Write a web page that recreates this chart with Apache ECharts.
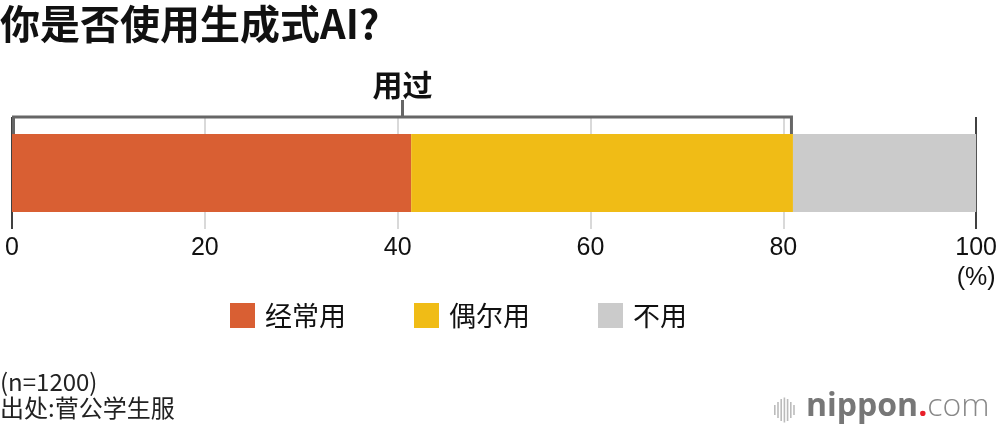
<!DOCTYPE html>
<html>
<head>
<meta charset="utf-8">
<script src="https://cdn.jsdelivr.net/npm/echarts@6/dist/echarts.min.js"></script>
<style>
html,body{margin:0;padding:0;background:#fff;}
#c{width:1000px;height:432px;}
</style>
</head>
<body>
<div id="c"></div>
<script>
// ---- data ----
const categories = [''];
const seriesNames = ['经常用', '偶尔用', '不用'];
const valuesOften = [41.4];
const valuesSometimes = [39.6];
const valuesNever = [19.0];
const usedLabel = '用过';
const tickLabels = ['0', '20', '40', '60', '80', '100'];
const title = '你是否使用生成式AI?';
const sampleNote = '(n=1200)';
const sourceNote = '出处:菅公学生服';

const colors = ['#D95F33', '#F0BC16', '#CBCBCB'];
const usedTotal = valuesOften[0] + valuesSometimes[0];
const CJK = '"Noto Sans CJK SC", "Noto Sans", sans-serif';
const NUM = '"Liberation Sans", Arial, sans-serif';

const chart = echarts.init(document.getElementById('c'), null, {renderer: 'canvas'});

const logoBars = [10, 16, 22, 25, 22, 16, 10];

chart.setOption({
  animation: false,
  backgroundColor: '#fff',
  title: {
    text: title, left: 0, top: 4, padding: 0,
    textStyle: {fontFamily: CJK, fontSize: 40, fontWeight: 'bold', color: '#111'}
  },
  legend: {
    left: 230, top: 302, padding: 0,
    itemWidth: 25, itemHeight: 25, itemGap: 68, icon: 'rect',
    selectedMode: false,
    data: seriesNames,
    textStyle: {fontFamily: CJK, fontSize: 27, color: '#111', padding: [0, 0, 0, 5]}
  },
  grid: {left: 12, right: 22, top: 117, height: 112},
  xAxis: {
    type: 'value', min: 0, max: 100, interval: 20,
    axisLine: {show: false}, axisTick: {show: false},
    axisLabel: {
      margin: 4, fontFamily: NUM, fontSize: 25, color: '#111', lineHeight: 30,
      formatter: (v) => { const i = v / 20; const t = tickLabels[i] ?? String(v); return v === 100 ? t + '\n(%)' : t; }
    },
    splitLine: {show: true, lineStyle: {color: ['#111', '#d0d0d0', '#d0d0d0', '#d0d0d0', '#d0d0d0', '#111'], width: 1.6}}
  },
  yAxis: {
    type: 'category', data: categories,
    axisLine: {show: false}, axisTick: {show: false}, axisLabel: {show: false}, splitLine: {show: false}
  },
  series: [
    {name: seriesNames[0], type: 'bar', stack: 't', data: valuesOften, barWidth: 78, itemStyle: {color: colors[0]}},
    {name: seriesNames[1], type: 'bar', stack: 't', data: valuesSometimes, barWidth: 78, itemStyle: {color: colors[1]}},
    {name: seriesNames[2], type: 'bar', stack: 't', data: valuesNever, barWidth: 78, itemStyle: {color: colors[2]}},
    {
      type: 'custom', z: 10, silent: true,
      data: [[0, usedTotal, 0]],
      encode: {x: [0, 1], y: 2},
      renderItem: (params, api) => {
        const s = api.coord([api.value(0), 0]);
        const e = api.coord([api.value(1), 0]);
        const cy = s[1];
        const top = cy - 56, end = cy - 39;
        const x0 = s[0] + 1.5, x1 = e[0] - 1.5, xm = (s[0] + e[0]) / 2;
        return {
          type: 'group',
          children: [
            {type: 'polyline', shape: {points: [[x0, end], [x0, top], [x1, top], [x1, end]]},
             style: {stroke: '#666', lineWidth: 3, fill: null}},
            {type: 'line', shape: {x1: xm, y1: top, x2: xm, y2: top - 17}, style: {stroke: '#666', lineWidth: 3}},
            {type: 'text', style: {text: usedLabel, x: xm, y: top - 17, align: 'center', verticalAlign: 'bottom',
              fontFamily: CJK, fontSize: 30, fontWeight: 'bold', fill: '#111'}}
          ]
        };
      }
    }
  ],
  graphic: [
    {type: 'text', left: 0, top: 370, style: {text: sampleNote, fontFamily: CJK, fontSize: 24, fill: '#222'}},
    {type: 'text', left: 0, top: 396, style: {text: sourceNote, fontFamily: CJK, fontSize: 24, fill: '#222'}},
    ...logoBars.map((h, i) => ({type: 'rect', shape: {x: 774 + i * 3.2, y: 410 - h / 2, width: 1.6, height: h}, style: {fill: '#bbb'}})),
    {type: 'text', left: 806, top: 391, style: {
      rich: {
        a: {fontFamily: '"Open Sans", sans-serif', fontSize: 32, fontWeight: 'bold', fill: '#777'},
        b: {fontFamily: '"Open Sans", sans-serif', fontSize: 32, fontWeight: 'bold', fill: '#e8202a'},
        c: {fontFamily: '"Open Sans", sans-serif', fontSize: 32, fontWeight: 300, fill: '#888'}
      },
      text: '{a|nippon}{b|.}{c|com}'
    }}
  ]
});
</script>
</body>
</html>
